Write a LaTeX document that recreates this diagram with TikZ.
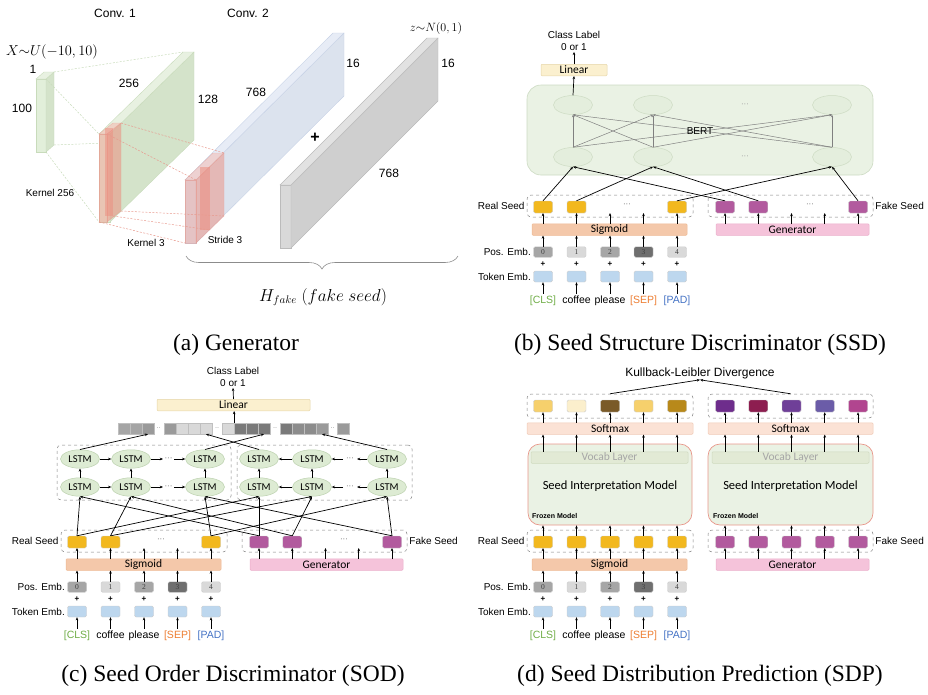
\documentclass[tikz,border=0pt]{standalone}
\usepackage[no-math]{fontspec}
\setmainfont{Liberation Sans}
\newfontfamily\calfont{Carlito}
\newfontfamily\capfont{Liberation Serif}
\usetikzlibrary{arrows.meta,shapes.geometric,decorations.pathreplacing}

% colours
\definecolor{realseed}{HTML}{F2B81E}
\definecolor{fakeseed}{HTML}{B25A9E}
\definecolor{sigfill}{HTML}{F4C8AA}
\definecolor{sigline}{HTML}{EDB993}
\definecolor{genfill}{HTML}{F5C3DA}
\definecolor{genline}{HTML}{EBAECB}
\definecolor{linfill}{HTML}{FBF0CF}
\definecolor{linline}{HTML}{E6D6A8}
\definecolor{tokblue}{HTML}{BDD7EE}
\definecolor{posA}{HTML}{A6A6A6}
\definecolor{posB}{HTML}{D9D9D9}
\definecolor{posC}{HTML}{6F6F6F}
\definecolor{clsgreen}{HTML}{70AD47}
\definecolor{sepor}{HTML}{ED7D31}
\definecolor{padbl}{HTML}{4472C4}
\definecolor{bertfill}{HTML}{EAF2E4}
\definecolor{bertline}{HTML}{CDDBC3}
\definecolor{bertnode}{HTML}{E4EEDD}
\definecolor{lstmfill}{HTML}{DDEBD3}
\definecolor{lstmline}{HTML}{BCD1AE}
\definecolor{smfill}{HTML}{FBE2D5}
\definecolor{smline}{HTML}{F0CAB6}
\definecolor{simline}{HTML}{E8968A}
\definecolor{vocfill}{HTML}{E2EAD5}
\definecolor{vocline}{HTML}{CFDABF}
\definecolor{hcA}{HTML}{A5A5A5}
\definecolor{hcB}{HTML}{D9D9D9}
\definecolor{hcC}{HTML}{8C8C8C}
\definecolor{hcD}{HTML}{7A7A7A}
\definecolor{hcE}{HTML}{9A9A9A}
\definecolor{kA}{HTML}{F6D06C}
\definecolor{kB}{HTML}{FBEFCC}
\definecolor{kC}{HTML}{7A5A28}
\definecolor{kD}{HTML}{B8891A}
\definecolor{pA}{HTML}{6E2D8C}
\definecolor{pB}{HTML}{8D1E50}
\definecolor{pC}{HTML}{6F3F98}
\definecolor{pD}{HTML}{6B5CA8}
\definecolor{pE}{HTML}{B1458F}
\definecolor{grfront}{HTML}{E2EFDA}
\definecolor{grside}{HTML}{D4E3CA}
\definecolor{grtop}{HTML}{E8F1E1}
\definecolor{gredge}{HTML}{C8DBBB}
\definecolor{blfront}{HTML}{DAE3F3}
\definecolor{blside}{HTML}{DCE3EE}
\definecolor{bltop}{HTML}{E7ECF6}
\definecolor{bledge}{HTML}{C7D2E6}
\definecolor{gyfront}{HTML}{D9D9D9}
\definecolor{gyside}{HTML}{CFCFCF}
\definecolor{gytop}{HTML}{E2E2E2}
\definecolor{gyedge}{HTML}{BBBBBB}
\definecolor{rdfront}{HTML}{F0A496}
\definecolor{rdside}{HTML}{EC8E80}
\definecolor{rdtop}{HTML}{F4B8AD}
\definecolor{rdedge}{HTML}{E8998D}

\tikzset{
  lbl/.style={font=\fontsize{10}{12}\selectfont, inner sep=1pt},
  dimlbl/.style={font=\fontsize{12}{14}\selectfont, inner sep=1pt},
  captext/.style={font=\capfont\fontsize{23.5}{26}\selectfont, inner sep=0pt},
  arr/.style={-{Stealth[length=3.2pt,width=2.6pt]}, line width=0.7pt},
  thinarr/.style={-{Stealth[length=2.6pt,width=2.2pt]}, line width=0.5pt, black!50},
  dashbox/.style={draw=black!50, dashed, rounded corners=4pt, line width=0.5pt, inner sep=0pt},
  seedbox/.style={rectangle, rounded corners=1.5pt, minimum width=19pt, minimum height=12pt, inner sep=0pt, draw=black!20, line width=0.4pt},
  posbox/.style={seedbox, minimum height=10.5pt, text=black!75, font=\capfont\fontsize{7.5}{8}\selectfont},
  tokbox/.style={seedbox, fill=tokblue, minimum height=11pt},
  barbox/.style={rectangle, rounded corners=1pt, minimum height=11.5pt, inner sep=0pt, line width=0.5pt, font=\calfont\fontsize{11.5}{12}\selectfont},
  wordlbl/.style={font=\fontsize{10.5}{12}\selectfont, inner sep=1pt, text height=8pt, text depth=2pt},
  pluslbl/.style={font=\bfseries\fontsize{8}{9}\selectfont, inner sep=0pt},
  dotlbl/.style={font=\fontsize{8}{9}\selectfont, text=black!60, inner sep=0pt},
  lstm/.style={ellipse, fill=lstmfill, draw=lstmline, line width=0.5pt, minimum width=39pt, minimum height=18.5pt, inner sep=0pt, font=\calfont\fontsize{10.5}{12}\selectfont},
  bertnode/.style={ellipse, fill=bertnode, draw=bertline, line width=0.5pt, minimum width=39pt, minimum height=19pt, inner sep=0pt},
  hcell/.style={rectangle, minimum width=12pt, minimum height=11pt, inner sep=0pt, draw=white!75!black, line width=0.3pt},
  simbox/.style={rectangle, rounded corners=12pt, fill=bertfill, draw=simline, line width=0.7pt, minimum width=164pt, minimum height=81pt},
  gdash/.style={draw=gredge, dashed, dash pattern=on 2pt off 1.5pt, line width=0.5pt},
  rdash/.style={draw=rdedge, dashed, dash pattern=on 2pt off 1.5pt, line width=0.5pt}
}

% a block drawn as a prism: x, y, width, height, depth x, depth y, colour prefix, options
\newcommand{\prismbox}[8]{%
  \filldraw[#7front, draw=#7edge, line width=0.4pt, #8] (#1,#2) rectangle ({#1+#3},{#2+#4});
  \filldraw[#7side, draw=#7edge, line width=0.4pt, #8] ({#1+#3},#2) -- ({#1+#3+#5},{#2+(#6)}) -- ({#1+#3+#5},{#2+#4+(#6)}) -- ({#1+#3},{#2+#4}) -- cycle;
  \filldraw[#7top, draw=#7edge, line width=0.4pt, #8] (#1,#2) -- ({#1+#5},{#2+(#6)}) -- ({#1+#3+#5},{#2+(#6)}) -- ({#1+#3},#2) -- cycle;
}

% seed rows, sigmoid/generator and the embeddings underneath
\newcommand{\seedstack}[1]{%
  \node[dashbox, minimum width=166pt, minimum height=22pt] (#1rb) at (610,206) {};
  \node[dashbox, minimum width=165pt, minimum height=22pt] (#1fb) at (790.5,206) {};
  \node[lbl, anchor=east, xshift=-1pt] (#1rl) at (#1rb.west) {Real Seed};
  \node[lbl, anchor=west, xshift=1pt] (#1fl) at (#1fb.east) {Fake Seed};
  \node[barbox, fill=sigfill, draw=sigline, minimum width=155pt] (#1sig) at (609.5,229.5) {Sigmoid};
  \node[barbox, fill=genfill, draw=genline, minimum width=153pt] (#1gen) at (792.5,229.5) {Generator};
  \node[lbl, anchor=east] (#1pl) at (532,252) {Pos. Emb.};
  \node[lbl, anchor=east] (#1tl) at (532,276.5) {Token Emb.};
  \foreach \i/\x/\fx/\pc/\w in {0/543/725/posA/{\textcolor{clsgreen}{[CLS]}},
      1/576.5/758.25/posB/coffee, 2/610/791.5/posA/please,
      3/643.5/824.75/posC/{\textcolor{sepor}{[SEP]}}, 4/677/858/posB/{\textcolor{padbl}{[PAD]}}}{
    \node[posbox, fill=\pc] (#1p\i) at (\x,252) {\i};
    \node[pluslbl] (#1q\i) at (\x,264) {+};
    \node[tokbox] (#1t\i) at (\x,276.5) {};
    \node[wordlbl] (#1w\i) at (\x,300) {\w};
    \coordinate (#1r\i) at (\x,213);
    \coordinate (#1f\i) at (\fx,213);
    \draw[arr] (#1w\i) -- (#1t\i);
    \draw[arr] (#1p\i) -- (#1sig.south -| #1p\i);
    \draw[arr] (#1sig.north -| #1r\i) -- (#1r\i);
    \draw[arr] (#1gen.north -| #1f\i) -- (#1f\i);
  }%
}

% three real and three fake seeds with dots between
\newcommand{\sparseseeds}[1]{%
  \foreach \i/\x in {0/543,1/576.5,4/677}
    \node[seedbox, fill=realseed] (#1s\i) at (\x,207) {};
  \foreach \i/\x in {0/725,1/758.25,4/858}
    \node[seedbox, fill=fakeseed] (#1g\i) at (\x,207) {};
  \node[dotlbl] (#1sd) at (627,205) {···};
  \node[dotlbl] (#1gd) at (810,205) {···};
}

\begin{document}
\begin{tikzpicture}[x=1pt,y=-1pt]
\useasboundingbox (0,0) rectangle (928,694);

%%% (a) Generator
\prismbox{36}{79}{10}{73}{8}{-7}{gr}{}
\draw[gdash] (54,72) -- (183,52);
\draw[gdash] (54,145) -- (183,140);
\draw[gdash] (46,79) -- (99,134);
\draw[gdash] (46,152) -- (99,222);
\prismbox{99}{134}{11}{88}{84}{-82}{gr}{}
\prismbox{99}{134}{8}{88}{14}{-11}{rd}{opacity=0.55}
\fill[rdside, opacity=0.5] (105,128) rectangle (113,216);
\prismbox{185}{180}{11}{63}{148}{-147}{bl}{}
\prismbox{185}{180}{11}{63}{28}{-27}{rd}{opacity=0.5}
\fill[rdside, opacity=0.55] (200,167) rectangle (210,230);
\draw[rdash] (121,123) -- (224,153);
\draw[rdash] (107,134) -- (196,180);
\draw[rdash] (121,211) -- (224,216);
\draw[rdash] (113,216) -- (210,230);
\draw[rdash] (99,222) -- (185,243);
\prismbox{280}{185}{11}{63}{147}{-147}{gy}{}

\node[dimlbl] (conva) at (115,13) {Conv. 1};
\node[dimlbl] (convb) at (248,13) {Conv. 2};
\node[font=\fontsize{13.5}{15}\selectfont, inner sep=0pt] (xdist) at (52,52) {$X{\sim}U(-10,10)$};
\node[dimlbl] (gone) at (33,69) {1};
\node[dimlbl] (ghund) at (22,108) {100};
\node[dimlbl] (gtfs) at (129,83) {256};
\node[dimlbl] (gote) at (208,99) {128};
\node[dimlbl] (gbsse) at (256,92) {768};
\node[dimlbl] (gbsix) at (353,63) {16};
\node[font=\fontsize{12}{14}\selectfont, inner sep=0pt] (zdist) at (436,28) {$z{\sim}N(0,1)$};
\node[dimlbl] (gzsix) at (448,63) {16};
\node[dimlbl] (gzsse) at (389,173) {768};
\node[font=\bfseries\fontsize{16}{18}\selectfont, inner sep=0pt] (gplus) at (315,138) {+};
\node[lbl] (kerna) at (50,193) {Kernel 256};
\node[lbl] (kernb) at (146,243) {Kernel 3};
\node[lbl] (strd) at (225,240) {Stride 3};
\draw[decorate, decoration={brace, mirror, amplitude=13pt}, black!45, line width=0.6pt] (186,256) -- (458,256);
\node[font=\fontsize{16}{18}\selectfont, inner sep=0pt] (hfake) at (323,297) {$H_{fake}\ (fake\ seed)$};

%%% (b) Seed Structure Discriminator
\begin{scope}
\sparseseeds{b}
\seedstack{b}
\end{scope}
\node[rectangle, rounded corners=14pt, fill=bertfill, draw=bertline, line width=0.6pt, minimum width=346pt, minimum height=90pt] (bert) at (700,130) {};
\foreach \k/\x in {1/573,2/653,3/832} {
  \node[bertnode] (et\k) at (\x,105) {};
  \node[bertnode] (eb\k) at (\x,157) {};
}
\node[dotlbl, text=black!40] (etd) at (745,105) {···};
\node[dotlbl, text=black!40] (ebd) at (745,157) {···};
\foreach \i in {1,2,3}
  \foreach \j in {1,2,3}
    \draw[thinarr] (eb\i.north) -- (et\j.south);
\node[lbl] (bertl) at (700,131) {BERT};
\node[barbox, fill=linfill, draw=linline, minimum width=66pt] (blin) at (574,70) {Linear};
\node[lbl, align=center] (bcls) at (574,41) {Class Label\\0 or 1};
\draw[arr] (et1.north) -- (blin.south);
\draw[arr] (blin.north) -- (bcls.south);
\foreach \s/\k in {0/1,1/2,4/3} {
  \draw[arr] (bs\s.north) -- (eb\k.south);
  \draw[arr] (bg\s.north) -- (eb\k.south);
}

%%% (c) Seed Order Discriminator
\begin{scope}[shift={(-466,335)}]
\sparseseeds{c}
\seedstack{c}
\end{scope}
\node[dashbox, minimum width=174pt, minimum height=55pt] (lgrp) at (144,472.5) {};
\node[dashbox, minimum width=175pt, minimum height=55pt] (rgrp) at (324.5,472.5) {};
\foreach \k/\x in {1/80,2/131,3/205} {
  \node[lstm] (lt\k) at (\x,459) {LSTM};
  \node[lstm] (lb\k) at (\x,487) {LSTM};
  \draw[arr] (lb\k) -- (lt\k);
}
\foreach \k/\x in {1/259,2/312,3/387} {
  \node[lstm] (rt\k) at (\x,459) {LSTM};
  \node[lstm] (rb\k) at (\x,487) {LSTM};
  \draw[arr] (rb\k) -- (rt\k);
}
\foreach \r/\y in {t/459,b/487} {
  \coordinate (la\r1) at (163,\y);
  \coordinate (la\r2) at (174,\y);
  \node[dotlbl] (ld\r) at (168.5,\y) {···};
  \draw[arr] (l\r1) -- (l\r2);
  \draw[arr] (l\r2) -- (la\r1);
  \draw[arr] (la\r2) -- (l\r3);
  \coordinate (ra\r1) at (343,\y);
  \coordinate (ra\r2) at (357,\y);
  \node[dotlbl] (rd\r) at (350,\y) {···};
  \draw[arr] (r\r2) -- (r\r1);
  \draw[arr] (ra\r1) -- (r\r2);
  \draw[arr] (r\r3) -- (ra\r2);
}
\foreach \s/\k in {0/1,1/2,4/3} {
  \draw[arr] (cs\s.north) -- (lb\k.south);
  \draw[arr] (cs\s.north) -- (rb\k.south);
  \draw[arr] (cg\s.north) -- (rb\k.south);
  \draw[arr] (cg\s.north) -- (lb\k.south);
}
\foreach \x/\c [count=\k] in {124/hcA,136/hcA,148/hcE,170/hcE,182/hcB,194/hcB,206/hcB,228/hcB,240/hcD,252/hcD,264/hcD,286/hcD,298/hcC,310/hcC,322/hcE,343/hcE}
  \node[hcell, fill=\c] (h\k) at (\x,428.5) {};
\foreach \k/\x in {1/158.5,2/217,3/275,4/332.5}
  \node[dotlbl, font=\fontsize{6}{7}\selectfont] (hd\k) at (\x,428.5) {··};
\draw[arr] (lt1.north) -- (h3.south);
\draw[arr] (lt3.north) -- (h11.south);
\draw[arr] (rt1.north) -- (h7.south);
\draw[arr] (rt3.north) -- (h15.south);
\node[barbox, fill=linfill, draw=linline, minimum width=153pt] (clin) at (233.5,405) {Linear};
\node[lbl, align=center] (ccls) at (233,377) {Class Label\\0 or 1};
\draw[arr] (h8.north east) -- (clin.south -| h8.north east);
\draw[arr] (clin.north) -- (ccls.south);

%%% (d) Seed Distribution Prediction
\begin{scope}[shift={(0,335)}]
\foreach \i/\x in {0/543,1/576.5,2/610,3/643.5,4/677}
  \node[seedbox, fill=realseed] (ds\i) at (\x,207) {};
\foreach \i/\x in {0/725,1/758.25,2/791.5,3/824.75,4/858}
  \node[seedbox, fill=fakeseed] (dg\i) at (\x,207) {};
\seedstack{d}
\end{scope}
\node[simbox] (dsim1) at (610,484.5) {};
\node[simbox, minimum width=165pt] (dsim2) at (790.5,484.5) {};
\node[barbox, fill=vocfill, draw=vocline, text=black!35, minimum width=157pt] (dvl1) at (609.5,457.5) {Vocab Layer};
\node[barbox, fill=vocfill, draw=vocline, text=black!35, minimum width=157pt] (dvl2) at (790.5,457.5) {Vocab Layer};
\node[font=\calfont\fontsize{12.5}{14}\selectfont] (dsimt1) at (610,486) {Seed Interpretation Model};
\node[font=\calfont\fontsize{12.5}{14}\selectfont] (dsimt2) at (790.5,486) {Seed Interpretation Model};
\node[font=\bfseries\fontsize{7}{8}\selectfont, anchor=west, inner sep=0pt] (dfz1) at (532,516) {Frozen Model};
\node[font=\bfseries\fontsize{7}{8}\selectfont, anchor=west, inner sep=0pt] (dfz2) at (713,516) {Frozen Model};
\node[barbox, fill=smfill, draw=smline, minimum width=166pt] (dsm1) at (610,428.5) {Softmax};
\node[barbox, fill=smfill, draw=smline, minimum width=165pt] (dsm2) at (790.5,428.5) {Softmax};
\node[dashbox, minimum width=166pt, minimum height=24pt] (dlb) at (610,406) {};
\node[dashbox, minimum width=165pt, minimum height=24pt] (drb) at (790.5,406) {};
\foreach \i/\x/\c in {0/543/kA,1/576.5/kB,2/610/kC,3/643.5/kA,4/677/kD} {
  \node[seedbox, fill=\c] (dk\i) at (\x,406) {};
  \draw[arr] (dsm1.north -| dk\i) -- (dk\i);
  \draw[arr] (dvl1.north -| dk\i) -- (dsm1.south -| dk\i);
  \draw[arr] (ds\i.north) -- (dsim1.south -| ds\i);
}
\foreach \i/\x/\c in {0/725/pA,1/758.25/pB,2/791.5/pC,3/824.75/pD,4/858/pE} {
  \node[seedbox, fill=\c] (dm\i) at (\x,406) {};
  \draw[arr] (dsm2.north -| dm\i) -- (dm\i);
  \draw[arr] (dvl2.north -| dm\i) -- (dsm2.south -| dm\i);
  \draw[arr] (dg\i.north) -- (dsim2.south -| dg\i);
}
\node[lbl, font=\fontsize{12}{14}\selectfont] (dkl) at (700,373) {Kullback-Leibler Divergence};
\draw[arr] (dlb.north) -- (dkl.south);
\draw[arr] (drb.north) -- (dkl.south);

%%% captions
\node[captext] (capa) at (236,345) {(a) Generator};
\node[captext] (capb) at (700,345) {(b) Seed Structure Discriminator (SSD)};
\node[captext] (capc) at (233,676) {(c) Seed Order Discriminator (SOD)};
\node[captext] (capd) at (700,676) {(d) Seed Distribution Prediction (SDP)};
\end{tikzpicture}
\end{document}
